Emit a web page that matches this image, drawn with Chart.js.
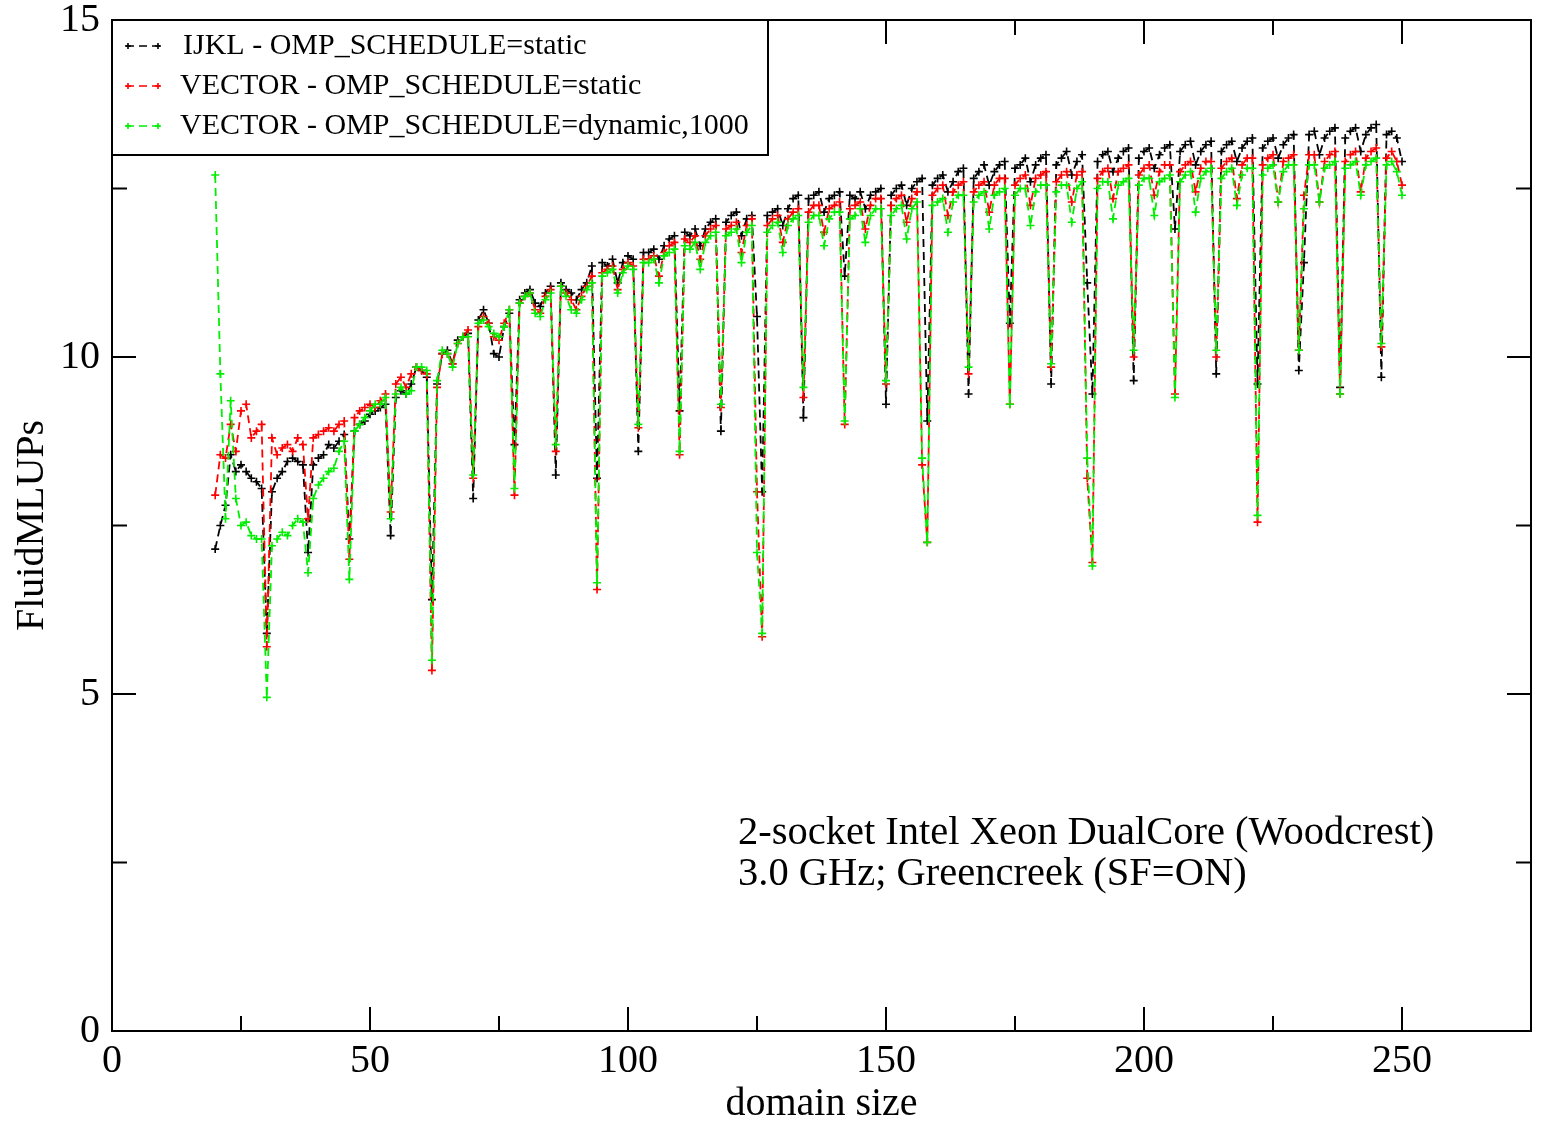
<!DOCTYPE html>
<html lang="en">
<head>
<meta charset="UTF-8">
<title>FluidMLUPs vs domain size</title>
<script src="https://cdn.jsdelivr.net/npm/chart.js"></script>
<style>
  html, body { margin: 0; padding: 0; background: #fff; overflow: hidden; }
  canvas { display: block; }
</style>
</head>
<body>
<canvas id="chart" width="1544" height="1121"></canvas>
<script>
// one run per domain size, 20 .. 250
const domainSize = Array.from({ length: 231 }, (_, i) => 20 + i);

// IJKL - OMP_SCHEDULE=static
const ijklStatic = [
  7.15, 7.50, 7.80, 8.55, 8.30, 8.40, 8.30, 8.20, 8.15, 8.05,
  5.90, 8.00, 8.20, 8.30, 8.45, 8.50, 8.45, 8.40, 7.10, 8.40,
  8.50, 8.55, 8.70, 8.65, 8.75, 8.85, 7.30, 8.90, 9.00, 9.05,
  9.15, 9.20, 9.25, 9.30, 7.35, 9.40, 9.50, 9.45, 9.60, 9.85,
  9.80, 9.70, 6.40, 9.60, 10.05, 10.10, 9.90, 10.25, 10.30, 10.35,
  7.90, 10.55, 10.70, 10.50, 10.05, 10.00, 10.45, 10.65, 8.70, 10.85,
  10.95, 11.00, 10.80, 10.75, 10.95, 11.05, 8.25, 11.10, 11.00, 10.95,
  10.85, 11.00, 11.10, 11.35, 8.20, 11.40, 11.35, 11.45, 11.10, 11.40,
  11.50, 11.45, 8.60, 11.55, 11.55, 11.60, 11.45, 11.65, 11.75, 11.80,
  9.20, 11.85, 11.80, 11.90, 11.65, 11.90, 12.00, 12.05, 8.90, 12.00,
  12.10, 12.15, 11.80, 12.05, 12.10, 10.60, 8.00, 12.10, 12.15, 12.20,
  11.95, 12.20, 12.35, 12.40, 9.10, 12.35, 12.40, 12.45, 12.15, 12.35,
  12.40, 12.45, 11.20, 12.40, 12.35, 12.45, 12.20, 12.40, 12.45, 12.50,
  9.30, 12.40, 12.50, 12.55, 12.25, 12.50, 12.60, 12.65, 9.05, 12.55,
  12.65, 12.70, 12.45, 12.60, 12.75, 12.80, 9.45, 12.65, 12.75, 12.85,
  12.55, 12.75, 12.85, 12.90, 10.50, 12.80, 12.85, 12.95, 12.60, 12.85,
  12.95, 13.00, 9.60, 12.85, 12.95, 13.05, 12.70, 12.90, 13.00, 11.10,
  9.45, 12.90, 13.00, 13.05, 12.75, 12.95, 13.05, 13.10, 9.65, 12.95,
  13.05, 13.10, 12.80, 13.00, 13.10, 13.15, 11.90, 13.05, 13.15, 13.20,
  12.85, 13.05, 13.15, 13.20, 9.75, 13.05, 13.15, 13.20, 12.90, 13.10,
  13.20, 13.25, 9.60, 13.10, 13.20, 13.25, 12.95, 13.15, 13.25, 13.30,
  9.80, 11.40, 13.30, 13.35, 13.00, 13.25, 13.35, 13.40, 9.55, 13.25,
  13.35, 13.40, 13.05, 13.30, 13.40, 13.45, 9.70, 13.30, 13.35, 13.25,
  12.90
];

// VECTOR - OMP_SCHEDULE=static
const vectorStatic = [
  7.95, 8.55, 8.50, 9.00, 8.60, 9.20, 9.30, 8.80, 8.90, 9.00,
  5.70, 8.80, 8.55, 8.65, 8.70, 8.60, 8.80, 8.70, 7.60, 8.80,
  8.85, 8.90, 8.95, 8.90, 9.00, 9.05, 7.00, 9.10, 9.20, 9.25,
  9.30, 9.25, 9.35, 9.45, 7.70, 9.60, 9.70, 9.55, 9.75, 9.85,
  9.80, 9.75, 5.35, 9.55, 10.05, 10.05, 9.90, 10.20, 10.30, 10.40,
  8.20, 10.45, 10.60, 10.50, 10.30, 10.25, 10.50, 10.70, 7.95, 10.80,
  10.90, 10.95, 10.70, 10.65, 10.90, 11.00, 8.60, 11.05, 10.95, 10.85,
  10.70, 10.90, 11.05, 11.20, 6.55, 11.25, 11.30, 11.35, 11.00, 11.30,
  11.40, 11.35, 8.95, 11.45, 11.45, 11.50, 11.20, 11.55, 11.65, 11.70,
  8.55, 11.75, 11.70, 11.80, 11.45, 11.80, 11.90, 11.95, 9.25, 11.90,
  11.95, 12.00, 11.55, 11.95, 12.05, 8.00, 5.85, 11.95, 12.05, 12.10,
  11.70, 12.05, 12.15, 12.20, 9.40, 12.15, 12.25, 12.25, 11.85, 12.20,
  12.25, 12.30, 9.00, 12.20, 12.25, 12.30, 11.90, 12.25, 12.35, 12.35,
  9.60, 12.25, 12.35, 12.40, 12.00, 12.35, 12.45, 8.40, 7.25, 12.40,
  12.50, 12.55, 12.10, 12.45, 12.55, 12.60, 9.75, 12.45, 12.55, 12.60,
  12.15, 12.55, 12.65, 12.65, 9.30, 12.55, 12.65, 12.70, 12.25, 12.65,
  12.70, 12.75, 9.85, 12.60, 12.70, 12.75, 12.30, 12.70, 12.75, 8.20,
  6.95, 12.65, 12.75, 12.80, 12.35, 12.75, 12.80, 12.85, 10.00, 12.70,
  12.80, 12.85, 12.40, 12.75, 12.85, 12.85, 9.45, 12.75, 12.85, 12.90,
  12.45, 12.80, 12.90, 12.90, 10.00, 12.80, 12.90, 12.95, 12.35, 12.85,
  12.95, 12.95, 7.55, 12.85, 12.95, 13.00, 12.30, 12.90, 12.95, 13.00,
  10.10, 12.40, 13.00, 13.00, 12.30, 12.90, 13.00, 13.05, 9.45, 12.90,
  13.00, 13.05, 12.45, 12.95, 13.05, 13.10, 10.15, 12.95, 13.05, 12.90,
  12.55
];

// VECTOR - OMP_SCHEDULE=dynamic,1000
const vectorDynamic = [
  12.70, 9.75, 7.60, 9.35, 7.90, 7.50, 7.55, 7.35, 7.30, 7.30,
  4.95, 7.20, 7.30, 7.40, 7.35, 7.50, 7.60, 7.55, 6.80, 7.90,
  8.10, 8.20, 8.30, 8.35, 8.60, 8.75, 6.70, 8.90, 9.00, 9.10,
  9.20, 9.30, 9.30, 9.40, 7.60, 9.45, 9.55, 9.45, 9.50, 9.85,
  9.85, 9.80, 5.50, 9.65, 10.10, 10.05, 9.85, 10.20, 10.30, 10.30,
  8.25, 10.50, 10.55, 10.45, 10.35, 10.30, 10.45, 10.70, 8.05, 10.80,
  10.90, 10.95, 10.65, 10.60, 10.85, 10.95, 8.70, 11.05, 10.90, 10.70,
  10.65, 10.85, 11.00, 11.10, 6.65, 11.20, 11.25, 11.30, 10.95, 11.25,
  11.35, 11.30, 9.00, 11.40, 11.40, 11.45, 11.10, 11.50, 11.55, 11.60,
  8.60, 11.65, 11.60, 11.70, 11.30, 11.70, 11.80, 11.85, 9.30, 11.80,
  11.85, 11.90, 11.40, 11.85, 11.95, 7.10, 5.90, 11.85, 11.95, 12.00,
  11.55, 11.95, 12.05, 12.10, 9.55, 12.00, 12.10, 12.10, 11.65, 12.05,
  12.15, 12.15, 9.05, 12.05, 12.10, 12.20, 11.70, 12.10, 12.20, 12.20,
  9.65, 12.10, 12.20, 12.25, 11.75, 12.20, 12.30, 8.50, 7.25, 12.25,
  12.30, 12.35, 11.85, 12.30, 12.40, 12.40, 9.85, 12.30, 12.40, 12.45,
  11.90, 12.40, 12.45, 12.50, 9.30, 12.40, 12.50, 12.50, 11.95, 12.45,
  12.55, 12.55, 9.90, 12.45, 12.55, 12.55, 12.00, 12.50, 12.60, 8.50,
  6.90, 12.50, 12.60, 12.60, 12.05, 12.55, 12.60, 12.65, 10.10, 12.55,
  12.65, 12.65, 12.10, 12.60, 12.65, 12.70, 9.40, 12.60, 12.70, 12.75,
  12.15, 12.65, 12.75, 12.80, 10.10, 12.65, 12.75, 12.80, 12.25, 12.70,
  12.80, 12.80, 7.65, 12.70, 12.80, 12.85, 12.30, 12.75, 12.85, 12.85,
  10.10, 12.20, 12.85, 12.85, 12.30, 12.80, 12.85, 12.90, 9.45, 12.80,
  12.85, 12.90, 12.40, 12.85, 12.90, 12.95, 10.20, 12.85, 12.90, 12.75,
  12.40
];

const seriesLabels = [
  'IJKL - OMP_SCHEDULE=static',
  'VECTOR - OMP_SCHEDULE=static',
  'VECTOR - OMP_SCHEDULE=dynamic,1000'
];
const seriesColors = ['#000000', '#ff0000', '#00ee00'];

const xMajorTicks = [0, 50, 100, 150, 200, 250];
const xMinorTicks = [25, 75, 125, 175, 225, 275];
const yMajorTicks = [0, 5, 10, 15];
const yMinorTicks = [2.5, 7.5, 12.5];

const noteLines = [
  '2-socket Intel Xeon DualCore (Woodcrest)',
  '3.0 GHz; Greencreek (SF=ON)'
];

const SERIF = '"Liberation Serif", "Times New Roman", serif';
const DASH = [8, 5];

function toPoints(values) {
  return values.map((v, i) => ({ x: domainSize[i], y: v }));
}

function makeDataset(i, values) {
  return {
    label: seriesLabels[i],
    data: toPoints(values),
    borderColor: seriesColors[i],
    borderWidth: 1.8,
    borderDash: DASH,
    pointStyle: 'cross',
    pointRadius: 4,
    pointBorderWidth: 1.6,
    pointBorderColor: seriesColors[i],
    pointBackgroundColor: seriesColors[i],
    fill: false,
    tension: 0,
    order: 2 - i   // green drawn on top
  };
}

function drawCross(ctx, x, y, r) {
  ctx.beginPath();
  ctx.moveTo(x - r, y); ctx.lineTo(x + r, y);
  ctx.moveTo(x, y - r); ctx.lineTo(x, y + r);
  ctx.stroke();
}

// box, inward ticks, legend box and the note text
const frameAndNotes = {
  id: 'frameAndNotes',
  afterDatasetsDraw(chart) {
    const { ctx, chartArea: a, scales: { x, y } } = chart;
    ctx.save();
    ctx.setLineDash([]);
    ctx.strokeStyle = '#000';
    ctx.lineWidth = 2;
    ctx.strokeRect(a.left, a.top, a.right - a.left, a.bottom - a.top);

    const line = (x1, y1, x2, y2) => {
      ctx.beginPath(); ctx.moveTo(x1, y1); ctx.lineTo(x2, y2); ctx.stroke();
    };
    const xTicks = (vals, len) => vals.forEach(v => {
      const px = x.getPixelForValue(v);
      line(px, a.bottom, px, a.bottom - len);
      line(px, a.top, px, a.top + len);
    });
    const yTicks = (vals, len) => vals.forEach(v => {
      const py = y.getPixelForValue(v);
      line(a.left, py, a.left + len, py);
      line(a.right, py, a.right - len, py);
    });
    xTicks(xMajorTicks, 24);
    xTicks(xMinorTicks, 15);
    yTicks(yMajorTicks, 24);
    yTicks(yMinorTicks, 15);

    // legend
    const lx = a.left, ly = a.top, lw = 656, lh = 135;
    ctx.fillStyle = '#fff';
    ctx.fillRect(lx, ly, lw, lh);
    ctx.strokeRect(lx, ly, lw, lh);
    ctx.font = '30px ' + SERIF;
    ctx.textBaseline = 'middle';
    ctx.textAlign = 'left';
    chart.data.datasets.forEach((ds, i) => {
      const rowY = ly + 26 + i * 40;
      ctx.strokeStyle = ds.borderColor;
      ctx.lineWidth = 1.6;
      ctx.setLineDash(DASH);
      line(lx + 14, rowY, lx + 48, rowY);
      ctx.setLineDash([]);
      drawCross(ctx, lx + 16, rowY, 3);
      drawCross(ctx, lx + 46, rowY, 3);
      ctx.fillStyle = '#000';
      ctx.fillText(ds.label, lx + (i === 0 ? 71 : 68), rowY);
    });

    // note
    ctx.font = '40.5px ' + SERIF;
    ctx.fillStyle = '#000';
    noteLines.forEach((t, i) => ctx.fillText(t, 738, 833 + i * 41));
    ctx.restore();
  }
};

new Chart(document.getElementById('chart'), {
  type: 'line',
  data: {
    datasets: [
      makeDataset(0, ijklStatic),
      makeDataset(1, vectorStatic),
      makeDataset(2, vectorDynamic)
    ]
  },
  options: {
    responsive: false,
    animation: false,
    devicePixelRatio: 1,
    layout: { padding: { left: 0, right: 13, top: 20, bottom: 0 } },
    plugins: {
      legend: { display: false },
      tooltip: { enabled: false }
    },
    scales: {
      x: {
        type: 'linear',
        min: 0,
        max: 275,
        grid: { display: false, drawTicks: false },
        border: { display: false },
        ticks: {
          font: { family: SERIF, size: 40 },
          color: '#000',
          padding: 6,
          maxRotation: 0,
          autoSkip: false
        },
        afterBuildTicks: scale => { scale.ticks = xMajorTicks.map(v => ({ value: v })); },
        afterFit: scale => { scale.height = 90; scale.paddingLeft = 0; scale.paddingRight = 0; },
        title: {
          display: true,
          text: 'domain size',
          align: 'center',
          font: { family: SERIF, size: 40 },
          color: '#000',
          padding: { top: 0, bottom: -7 }
        }
      },
      y: {
        min: 0,
        max: 15,
        grid: { display: false, drawTicks: false },
        border: { display: false },
        ticks: {
          stepSize: 5,
          font: { family: SERIF, size: 40 },
          color: '#000',
          padding: 12
        },
        afterFit: scale => { scale.width = 112; scale.paddingTop = 0; scale.paddingBottom = 0; },
        title: {
          display: true,
          text: 'FluidMLUPs',
          font: { family: SERIF, size: 40 },
          color: '#000',
          padding: { top: 8, bottom: 0 }
        }
      }
    }
  },
  plugins: [frameAndNotes]
});
</script>
</body>
</html>
